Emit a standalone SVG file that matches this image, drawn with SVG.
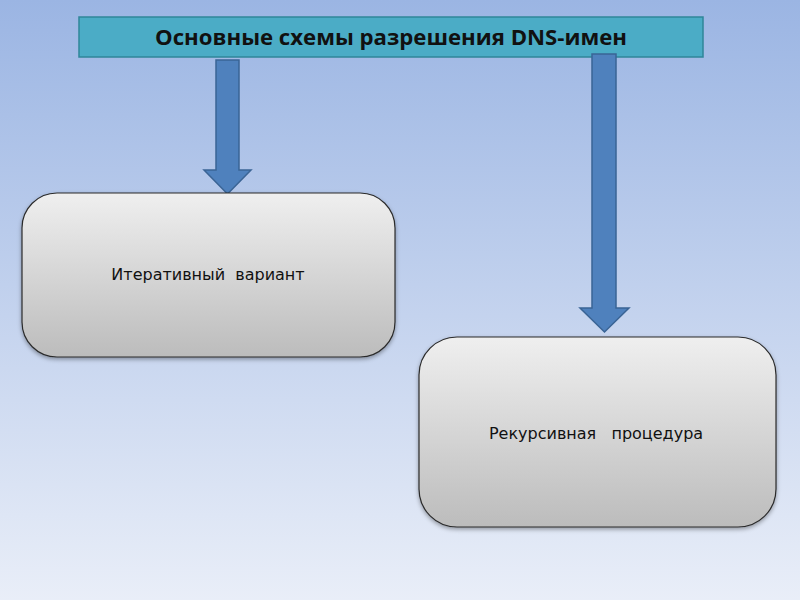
<svg xmlns="http://www.w3.org/2000/svg" width="800" height="600" viewBox="0 0 800 600">
<defs>
<linearGradient id="bg" x1="0" y1="0" x2="0" y2="1">
<stop offset="0" stop-color="#9bb5e3"/>
<stop offset="1" stop-color="#e9eef8"/>
</linearGradient>
<linearGradient id="box" x1="0" y1="0" x2="0" y2="1">
<stop offset="0" stop-color="#efefef"/>
<stop offset="1" stop-color="#bcbcbc"/>
</linearGradient>
<filter id="sh" x="-10%" y="-10%" width="120%" height="130%">
<feDropShadow dx="0" dy="2" stdDeviation="2" flood-color="#000" flood-opacity="0.35"/>
</filter>
</defs>
<style>
.node{fill:url(#box);stroke:#2b2b2b;stroke-width:1.2;filter:url(#sh)}
.lbl{font-family:"DejaVu Sans",Verdana,sans-serif;font-size:16px;fill:#111;text-anchor:middle;white-space:pre}
.arrow{fill:#4f81bd;stroke:#3a6495;stroke-width:1.5}
</style>
<rect x="0" y="0" width="800" height="600" fill="url(#bg)"/>
<g id="title">
<rect x="79" y="17" width="624" height="40" fill="#4bacc6" stroke="#2f8699" stroke-width="1.5"/>
<text x="391" y="45" font-family="'Open Sans','Liberation Sans',sans-serif" font-weight="bold" font-size="21" fill="#111" text-anchor="middle" textLength="472" lengthAdjust="spacingAndGlyphs">Основные схемы разрешения DNS-имен</text>
</g>
<g id="connectors">
<polygon class="arrow" points="216,60 239,60 239,170 251,170 227.5,194 204,170 216,170"/>
<polygon class="arrow" points="592,54 616,54 616,308 629,308 604.5,332 580,308 592,308"/>
</g>
<g id="iterative">
<rect class="node" x="22" y="193" width="373" height="164" rx="35" ry="35"/>
<text class="lbl" x="208" y="280" xml:space="preserve">Итеративный  вариант</text>
</g>
<g id="recursive">
<rect class="node" x="419" y="337" width="357" height="190" rx="38" ry="38"/>
<text class="lbl" x="596" y="439" xml:space="preserve">Рекурсивная   процедура</text>
</g>
</svg>
